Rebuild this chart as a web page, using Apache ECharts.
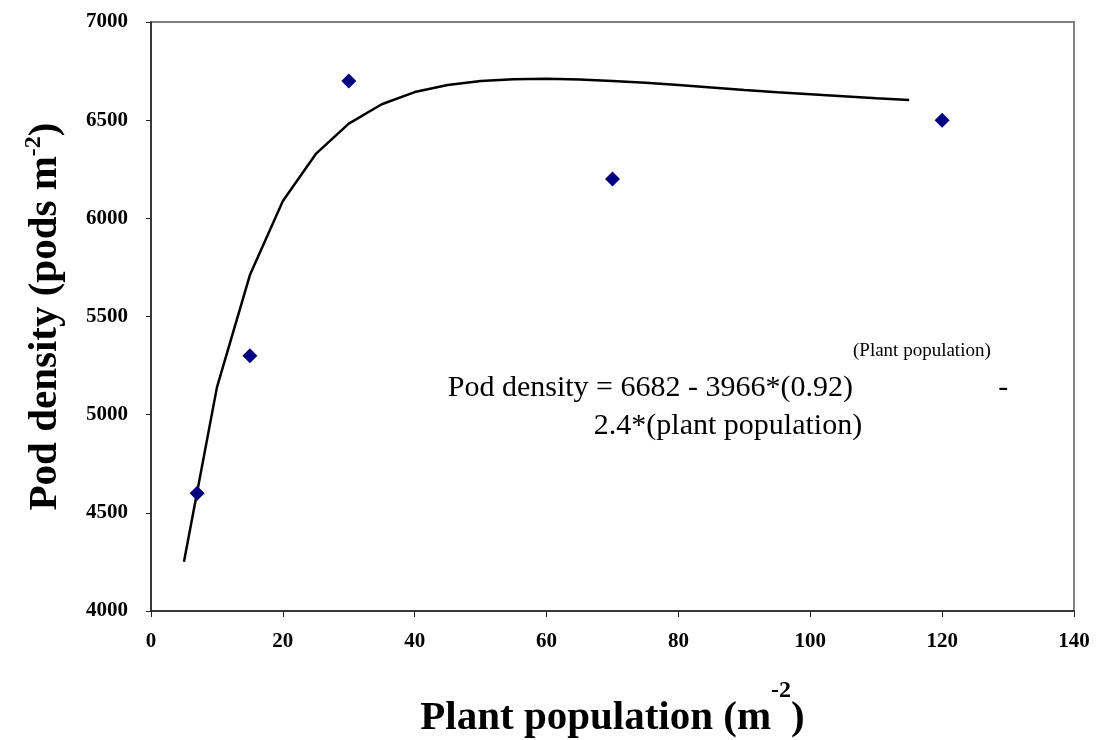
<!DOCTYPE html>
<html>
<head>
<meta charset="utf-8">
<script src="https://cdn.jsdelivr.net/npm/echarts@6/dist/echarts.min.js"></script>
<style>
  html, body { margin: 0; padding: 0; background: #fff; }
  #chart { width: 1098px; height: 740px; }
</style>
</head>
<body>
<div id="chart"></div>
<script>
// Observed pod density at each plant population
const popObserved = [7, 15, 30, 70, 120];
const podObserved = [4600, 5300, 6700, 6200, 6500];

// Fitted response curve
const popFitted = [5, 10, 15, 20, 25, 30, 35, 40, 45, 50, 55, 60, 65, 70, 75, 80, 85, 90, 95, 100, 105, 110, 115];
const podFitted = [4251, 5139, 5711, 6088, 6328, 6482, 6581, 6643, 6679, 6700, 6708, 6711, 6707, 6700, 6690, 6679, 6667, 6654, 6642, 6632, 6622, 6612, 6603];

// Axis ranges and ticks
const xTicks = [0, 20, 40, 60, 80, 100, 120, 140];
const yTicks = [4000, 4500, 5000, 5500, 6000, 6500, 7000];

const SERIF = "'Liberation Serif', 'Times New Roman', serif";

const observed = popObserved.map((x, i) => [x, podObserved[i]]);
const fitted = popFitted.map((x, i) => [x, podFitted[i]]);

// Bold title with a raised "-2" exponent
function titleRich(supPad) {
  return {
    b: { fontFamily: SERIF, fontWeight: 'bold', fontSize: 41, lineHeight: 46, color: '#000', verticalAlign: 'bottom' },
    s: { fontFamily: SERIF, fontWeight: 'bold', fontSize: 24, lineHeight: 24, color: '#000', verticalAlign: 'bottom', padding: [0, 0, supPad, 0] }
  };
}

const chart = echarts.init(document.getElementById('chart'), null, { renderer: 'canvas' });

chart.setOption({
  animation: false,
  backgroundColor: '#ffffff',
  grid: {
    left: 151, top: 22, right: 24, bottom: 129,
    outerBoundsMode: 'none',
    containLabel: false,
    show: true, borderColor: '#808080', borderWidth: 2, backgroundColor: '#ffffff'
  },
  xAxis: {
    type: 'value',
    min: xTicks[0], max: xTicks[xTicks.length - 1], interval: xTicks[1] - xTicks[0],
    splitLine: { show: false },
    axisLine: { show: true, onZero: false, lineStyle: { color: '#222', width: 1.5 } },
    axisTick: { show: true, inside: false, length: 6, lineStyle: { color: '#222', width: 1 } },
    axisLabel: { margin: 20, color: '#000', fontFamily: SERIF, fontWeight: 'bold', fontSize: 21, formatter: v => String(v) },
    name: '{b|Plant population (m}{s|-2}{b|)}',
    nameLocation: 'middle',
    nameGap: 82,
    nameTextStyle: { rich: titleRich(36) }
  },
  yAxis: {
    type: 'value',
    min: yTicks[0], max: yTicks[yTicks.length - 1], interval: yTicks[1] - yTicks[0],
    splitLine: { show: false },
    axisLine: { show: true, onZero: false, lineStyle: { color: '#222', width: 1.5 } },
    axisTick: { show: true, inside: false, length: 5, lineStyle: { color: '#222', width: 1 } },
    axisLabel: { margin: 23, color: '#000', fontFamily: SERIF, fontWeight: 'bold', fontSize: 21, formatter: v => String(v) },
    name: '{b|Pod density (pods m}{s|-2}{b|)}',
    nameLocation: 'middle',
    nameGap: 85,
    nameTextStyle: { rich: titleRich(20) }
  },
  series: [
    {
      name: 'Fitted',
      type: 'line',
      data: fitted,
      showSymbol: false,
      smooth: false,
      lineStyle: { color: '#000', width: 2.5 },
      z: 2
    },
    {
      name: 'Observed',
      type: 'scatter',
      data: observed,
      symbol: 'diamond',
      symbolSize: 15,
      itemStyle: { color: '#000080', opacity: 1 },
      z: 3
    }
  ],
  graphic: [
    {
      type: 'text',
      z: 10,
      style: {
        x: 728,
        y: 365,
        align: 'center',
        verticalAlign: 'top',
        text: '{n|Pod density = 6682 - 3966*(0.92)}{s|(Plant population)}{n| -}\n{n|2.4*(plant population)}',
        rich: {
          n: { fontFamily: SERIF, fontSize: 30, lineHeight: 38, fill: '#000', verticalAlign: 'bottom', align: 'center' },
          s: { fontFamily: SERIF, fontSize: 19, lineHeight: 20, fill: '#000', verticalAlign: 'bottom', align: 'center', padding: [0, 0, 42, 0] }
        }
      }
    }
  ]
});
</script>
</body>
</html>
